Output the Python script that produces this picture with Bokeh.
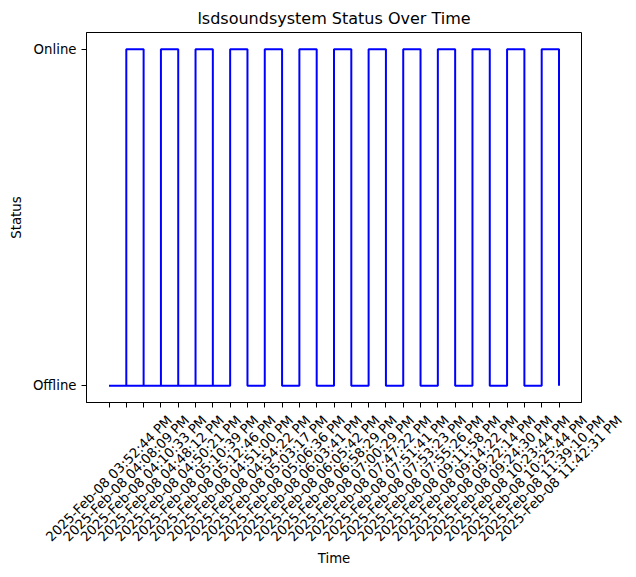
import math
from bokeh.plotting import figure
from bokeh.layouts import column
from bokeh.models import Range1d, FixedTicker
from bokeh.core.properties import value
from bokeh.embed import file_html
from bokeh.resources import INLINE

# tick labels (categories in order of first appearance)
time_labels = [
    "2025-Feb-08 03:52:44 PM", "2025-Feb-08 04:08:09 PM", "2025-Feb-08 04:10:33 PM",
    "2025-Feb-08 04:48:12 PM", "2025-Feb-08 04:50:21 PM", "2025-Feb-08 05:10:39 PM",
    "2025-Feb-08 05:12:46 PM", "2025-Feb-08 04:51:00 PM", "2025-Feb-08 04:54:22 PM",
    "2025-Feb-08 05:03:17 PM", "2025-Feb-08 05:06:36 PM", "2025-Feb-08 06:03:41 PM",
    "2025-Feb-08 06:05:42 PM", "2025-Feb-08 06:58:29 PM", "2025-Feb-08 07:00:29 PM",
    "2025-Feb-08 07:47:22 PM", "2025-Feb-08 07:51:41 PM", "2025-Feb-08 07:53:23 PM",
    "2025-Feb-08 07:55:26 PM", "2025-Feb-08 09:11:58 PM", "2025-Feb-08 09:14:22 PM",
    "2025-Feb-08 09:22:14 PM", "2025-Feb-08 09:24:30 PM", "2025-Feb-08 10:23:44 PM",
    "2025-Feb-08 10:25:44 PM", "2025-Feb-08 11:39:10 PM", "2025-Feb-08 11:42:31 PM",
]
status_levels = ["Offline", "Online"]

# status log, in the order it was plotted
log_times = [
    "2025-Feb-08 03:52:44 PM", "2025-Feb-08 04:08:09 PM", "2025-Feb-08 04:10:33 PM",
    "2025-Feb-08 04:48:12 PM", "2025-Feb-08 04:50:21 PM", "2025-Feb-08 05:10:39 PM",
    "2025-Feb-08 05:12:46 PM", "2025-Feb-08 03:52:44 PM", "2025-Feb-08 04:51:00 PM",
    "2025-Feb-08 04:54:22 PM", "2025-Feb-08 05:03:17 PM", "2025-Feb-08 05:06:36 PM",
    "2025-Feb-08 06:03:41 PM", "2025-Feb-08 06:05:42 PM", "2025-Feb-08 06:58:29 PM",
    "2025-Feb-08 07:00:29 PM", "2025-Feb-08 07:47:22 PM", "2025-Feb-08 07:51:41 PM",
    "2025-Feb-08 07:53:23 PM", "2025-Feb-08 07:55:26 PM", "2025-Feb-08 09:11:58 PM",
    "2025-Feb-08 09:14:22 PM", "2025-Feb-08 09:22:14 PM", "2025-Feb-08 09:24:30 PM",
    "2025-Feb-08 10:23:44 PM", "2025-Feb-08 10:25:44 PM", "2025-Feb-08 11:39:10 PM",
    "2025-Feb-08 11:42:31 PM",
]
log_status = [
    "Offline", "Online", "Offline", "Online", "Offline", "Online", "Offline",
    "Offline", "Online", "Offline", "Online", "Offline", "Online", "Offline",
    "Online", "Offline", "Online", "Offline", "Online", "Offline", "Online",
    "Offline", "Online", "Offline", "Online", "Offline", "Online", "Offline",
]

x = [time_labels.index(t) for t in log_times]
y = [status_levels.index(s) for s in log_status]

n = len(time_labels)
FONT = "DejaVu Sans"

# page geometry (pixels)
W, H = 636, 577
FRAME_L, FRAME_R, FRAME_T, FRAME_B = 86, 581, 32, 402
H1 = 408
H2 = H - H1
LABEL_CY = 478    # centre of the rotated tick labels
TIME_CY = 558     # centre of the x-axis title

x_start, x_end = -0.05 * (n - 1), 1.05 * (n - 1)

p = figure(width=W, height=H1, output_backend="svg", toolbar_location=None,
           x_range=Range1d(x_start, x_end), y_range=Range1d(-0.05, 1.05),
           min_border_left=FRAME_L, min_border_right=W - FRAME_R,
           min_border_top=FRAME_T, min_border_bottom=H1 - FRAME_B)
p.frame_align = False

p.title.text = "lsdsoundsystem Status Over Time"
p.title.align = "center"
p.title.text_font = FONT
p.title.text_font_size = "16px"
p.title.text_font_style = "normal"
p.title.text_color = "black"

p.xgrid.visible = False
p.ygrid.visible = False
p.outline_line_color = "black"
p.outline_line_alpha = 1
p.outline_line_width = 1
p.background_fill_color = "white"
p.border_fill_color = "white"

for ax in (p.xaxis[0], p.yaxis[0]):
    ax.axis_line_color = "black"
    ax.major_tick_line_color = "black"
    ax.major_tick_out = 5
    ax.major_tick_in = 0
    ax.minor_tick_line_color = None
    ax.major_label_text_font = FONT
    ax.major_label_text_font_size = "13.3px"
    ax.major_label_text_color = "black"
    ax.axis_label_text_font = FONT
    ax.axis_label_text_font_size = "13.3px"
    ax.axis_label_text_font_style = "normal"
    ax.axis_label_text_color = "black"

p.xaxis.ticker = FixedTicker(ticks=list(range(n)))
p.xaxis.major_label_overrides = {i: "" for i in range(n)}
p.xaxis.major_label_text_font_size = "0px"
p.xaxis.major_label_standoff = 0

p.yaxis.ticker = FixedTicker(ticks=list(range(len(status_levels))))
p.yaxis.major_label_overrides = {i: s for i, s in enumerate(status_levels)}
p.yaxis.axis_label = "Status"
p.yaxis.axis_label_standoff = 6

p.step(x, y, mode="after", line_color="blue", line_width=2)

# lower panel: rotated tick labels and the x-axis title, sharing the x scale
scale = (FRAME_R - FRAME_L) / (x_end - x_start)
p2 = figure(width=W, height=H2, output_backend="svg", toolbar_location=None,
            x_range=Range1d(x_start - FRAME_L / scale, x_end + (W - FRAME_R) / scale),
            y_range=Range1d(0, H2), x_axis_location=None, y_axis_location=None,
            min_border=0, outline_line_color=None)
p2.frame_align = False
p2.xgrid.visible = False
p2.ygrid.visible = False
p2.background_fill_color = "white"
p2.border_fill_color = "white"

p2.text(x=list(range(n)), y=[H - LABEL_CY] * n, text=time_labels,
        angle=math.pi / 4, text_align=value("center"), text_baseline=value("middle"),
        text_font=value(FONT), text_font_size=value("13.3px"), text_color="black")
p2.text(x=[(x_start + x_end) / 2], y=[H - TIME_CY], text=["Time"],
        text_align=value("center"), text_baseline=value("middle"),
        text_font=value(FONT), text_font_size=value("13.3px"), text_color="black")

layout = column(p, p2, spacing=0)
open("out.html", "w").write(file_html(layout, INLINE))
